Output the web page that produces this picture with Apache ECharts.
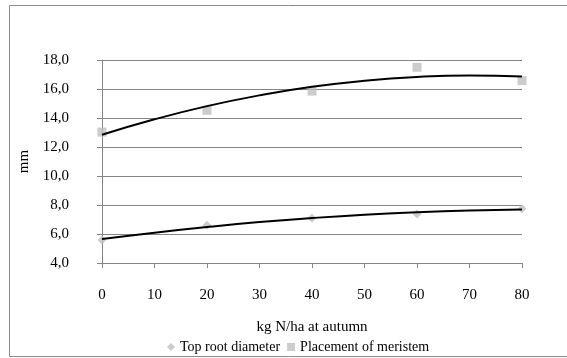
<!DOCTYPE html>
<html>
<head>
<meta charset="utf-8">
<script src="https://cdn.jsdelivr.net/npm/echarts@6/dist/echarts.min.js"></script>
<style>
  html, body { margin: 0; padding: 0; background: #fff; }
  #chart { width: 567px; height: 358px; }
</style>
</head>
<body>
<div id="chart"></div>
<script>
  // measured points
  var xValues = [0, 20, 40, 60, 80];
  var rootDiameter = [5.59, 6.6, 7.1, 7.38, 7.75];
  var meristem = [13.03, 14.53, 15.86, 17.5, 16.58];

  // trendlines
  var trendX = [0, 10, 20, 30, 40, 50, 60, 70, 80];
  var rootTrend = [5.65, 6.09, 6.48, 6.82, 7.1, 7.33, 7.5, 7.62, 7.69];
  var meristemTrend = [12.84, 13.91, 14.82, 15.56, 16.15, 16.57, 16.83, 16.93, 16.87];

  var seriesNames = ['Top root diameter', 'Placement of meristem'];

  function pairs(xs, ys) {
    return xs.map(function (x, i) { return [x, ys[i]] })
  }

  var font = 'Liberation Serif, Times New Roman, serif';
  var chart = echarts.init(document.getElementById('chart'));

  chart.setOption({
    backgroundColor: '#fff',
    animation: false,
    textStyle: { fontFamily: font },
    graphic: [{
      type: 'rect',
      shape: { x: 9.5, y: 5.5, width: 600, height: 351 },
      style: { fill: 'none', stroke: '#8c8c8c', lineWidth: 1 },
      silent: true
    }],
    grid: {
      left: 102,
      right: 45,
      top: 60,
      bottom: 95
    },
    legend: {
      data: [
        { name: seriesNames[0], icon: 'diamond' },
        { name: seriesNames[1], icon: 'rect' }
      ],
      left: 162,
      top: 335,
      itemWidth: 8,
      itemHeight: 8,
      itemGap: 7,
      textStyle: { fontFamily: font, fontSize: 14, color: '#000' }
    },
    xAxis: {
      type: 'value',
      min: 0,
      max: 80,
      interval: 10,
      name: 'kg N/ha at autumn',
      nameLocation: 'middle',
      nameGap: 57,
      nameTextStyle: { fontFamily: font, fontSize: 15, color: '#000' },
      axisLine: { show: true, onZero: false, lineStyle: { color: '#868686' } },
      axisTick: { show: true, length: 5, lineStyle: { color: '#868686' } },
      axisLabel: { margin: 25, fontFamily: font, fontSize: 15, color: '#000' },
      splitLine: { show: false }
    },
    yAxis: {
      type: 'value',
      min: 4,
      max: 18,
      interval: 2,
      name: 'mm',
      nameLocation: 'middle',
      nameGap: 70,
      nameRotate: 90,
      nameTextStyle: { fontFamily: font, fontSize: 15, color: '#000' },
      axisLine: { show: true, lineStyle: { color: '#868686' } },
      axisTick: { show: true, length: 5, lineStyle: { color: '#868686' } },
      axisLabel: {
        margin: 33,
        fontFamily: font,
        fontSize: 15,
        color: '#000',
        formatter: function (v) { return v.toFixed(1).replace('.', ',') }
      },
      splitLine: { show: true, lineStyle: { color: '#868686', width: 1 } }
    },
    series: [
      {
        name: seriesNames[0],
        type: 'scatter',
        symbol: 'diamond',
        symbolSize: 9,
        itemStyle: { color: '#bfbfbf' },
        data: pairs(xValues, rootDiameter),
        z: 3
      },
      {
        name: seriesNames[1],
        type: 'scatter',
        symbol: 'rect',
        symbolSize: 9,
        itemStyle: { color: '#bfbfbf' },
        data: pairs(xValues, meristem),
        z: 3
      },
      {
        name: 'trend1',
        type: 'line',
        smooth: true,
        symbol: 'none',
        lineStyle: { color: '#000', width: 2 },
        data: pairs(trendX, rootTrend),
        z: 4
      },
      {
        name: 'trend2',
        type: 'line',
        smooth: true,
        symbol: 'none',
        lineStyle: { color: '#000', width: 2 },
        data: pairs(trendX, meristemTrend),
        z: 4
      }
    ]
  })
</script>
</body>
</html>
